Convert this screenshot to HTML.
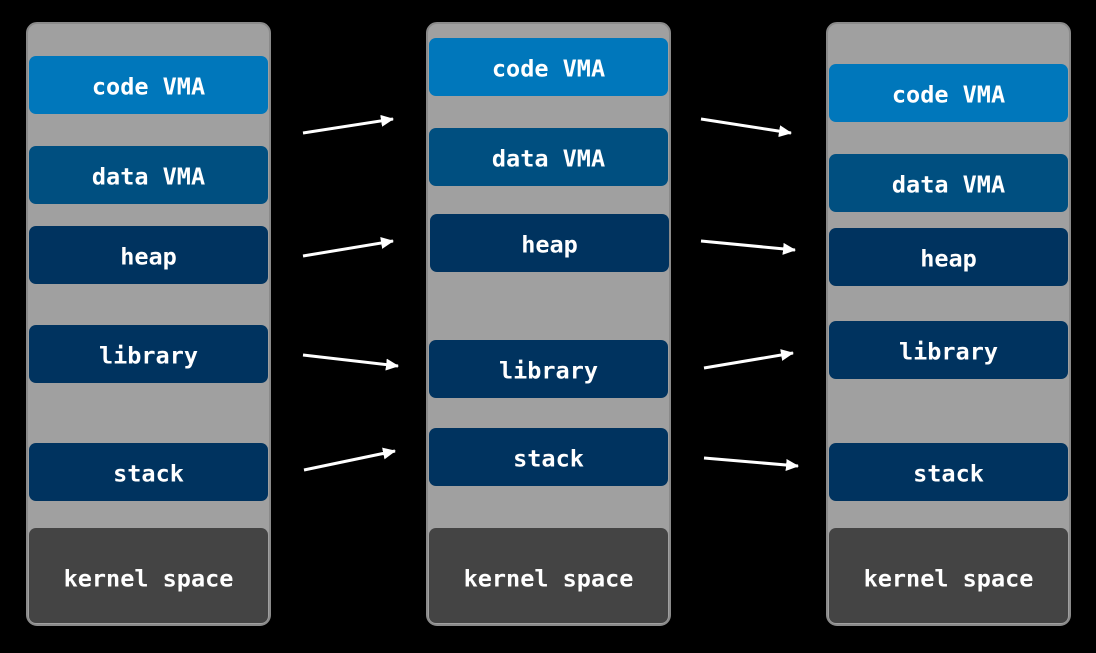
<!DOCTYPE html>
<html><head><style>
html,body{margin:0;padding:0;background:#000;}
svg{display:block;}
text{font-family:"DejaVu Sans Mono","Liberation Mono",monospace;font-size:23.5px;font-weight:bold;fill:#fff;text-anchor:middle;dominant-baseline:central;}
</style></head><body>
<svg width="1096" height="653" viewBox="0 0 1096 653" xmlns="http://www.w3.org/2000/svg">
<defs><marker id="a" markerWidth="13" markerHeight="12" refX="12" refY="6" orient="auto" markerUnits="userSpaceOnUse" viewBox="0 0 13 12"><path d="M0,0 L13,6 L0,12 z" fill="#fff"/></marker></defs>
<rect width="1096" height="653" fill="#000"/>
<g fill="#a0a0a0" stroke="#8a8a8a" stroke-width="2">
<rect x="27" y="23" width="243" height="602" rx="10"/>
<rect x="427" y="23" width="243" height="602" rx="10"/>
<rect x="827" y="23" width="243" height="602" rx="10"/>
</g>
<g transform="translate(0,1.5)">
<text x="148.5" y="85" style="display:none"></text>
</g>
<rect x="29" y="56" width="239" height="58" rx="7" fill="#0077bb"/>
<rect x="29" y="146" width="239" height="58" rx="7" fill="#004f80"/>
<rect x="29" y="226" width="239" height="58" rx="7" fill="#00335f"/>
<rect x="29" y="325" width="239" height="58" rx="7" fill="#00335f"/>
<rect x="29" y="443" width="239" height="58" rx="7" fill="#00335f"/>
<rect x="29" y="528" width="239" height="95" rx="7" fill="#444"/>
<rect x="429" y="38" width="239" height="58" rx="7" fill="#0077bb"/>
<rect x="429" y="128" width="239" height="58" rx="7" fill="#004f80"/>
<rect x="430" y="214" width="239" height="58" rx="7" fill="#00335f"/>
<rect x="429" y="340" width="239" height="58" rx="7" fill="#00335f"/>
<rect x="429" y="428" width="239" height="58" rx="7" fill="#00335f"/>
<rect x="429" y="528" width="239" height="95" rx="7" fill="#444"/>
<rect x="829" y="64" width="239" height="58" rx="7" fill="#0077bb"/>
<rect x="829" y="154" width="239" height="58" rx="7" fill="#004f80"/>
<rect x="829" y="228" width="239" height="58" rx="7" fill="#00335f"/>
<rect x="829" y="321" width="239" height="58" rx="7" fill="#00335f"/>
<rect x="829" y="443" width="239" height="58" rx="7" fill="#00335f"/>
<rect x="829" y="528" width="239" height="95" rx="7" fill="#444"/>
<g transform="translate(0,1.5)">
<text x="148.5" y="85">code VMA</text>
<text x="148.5" y="175">data VMA</text>
<text x="148.5" y="255">heap</text>
<text x="148.5" y="354">library</text>
<text x="148.5" y="472">stack</text>
<text x="148.5" y="577">kernel space</text>
<text x="548.5" y="67">code VMA</text>
<text x="548.5" y="157">data VMA</text>
<text x="549.5" y="243">heap</text>
<text x="548.5" y="369">library</text>
<text x="548.5" y="457">stack</text>
<text x="548.5" y="577">kernel space</text>
<text x="948.5" y="93">code VMA</text>
<text x="948.5" y="183">data VMA</text>
<text x="948.5" y="257">heap</text>
<text x="948.5" y="350">library</text>
<text x="948.5" y="472">stack</text>
<text x="948.5" y="577">kernel space</text>
</g>
<g stroke="#fff" stroke-width="3" marker-end="url(#a)">
<line x1="303" y1="133" x2="393" y2="119"/>
<line x1="303" y1="256" x2="393" y2="241"/>
<line x1="303" y1="355" x2="398" y2="366"/>
<line x1="304" y1="470" x2="395" y2="451"/>
<line x1="701" y1="119" x2="791" y2="133"/>
<line x1="701" y1="241" x2="795" y2="250"/>
<line x1="704" y1="368" x2="793" y2="353"/>
<line x1="704" y1="458" x2="798" y2="466"/>
</g>
</svg>
</body></html>
